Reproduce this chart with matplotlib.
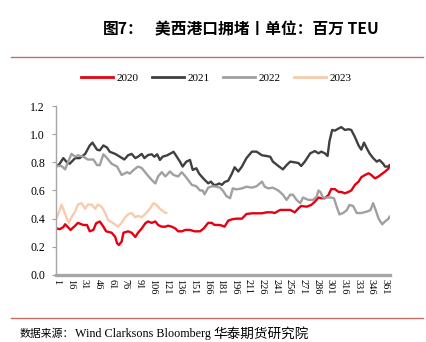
import matplotlib
matplotlib.use('Agg')
import matplotlib.pyplot as plt
from matplotlib.lines import Line2D

# ─── Data ─────────────────────────────────────────────────────────────────────
days_2020 = [1, 4, 8, 10, 13, 16, 21, 24, 30, 34, 37, 41, 44, 48, 52, 55, 61, 65, 67, 69,
             72, 74, 79, 83, 87, 90, 94, 98, 101, 105, 109, 112, 116, 120, 123, 127, 131,
             134, 138, 142, 147, 152, 158, 162, 167, 171, 174, 180, 185, 189, 193, 198,
             204, 209, 215, 220, 226, 231, 237, 240, 246, 251, 257, 262, 266, 269, 275,
             280, 284, 288, 291, 295, 299, 302, 306, 310, 313, 317, 321, 324, 328, 332,
             335, 339, 343, 346, 350, 354, 357, 361, 365, 366]
vals_2020 = [0.33, 0.325, 0.34, 0.36, 0.34, 0.32, 0.35, 0.37, 0.355, 0.355, 0.31, 0.32,
             0.367, 0.38, 0.343, 0.31, 0.30, 0.27, 0.225, 0.213, 0.237, 0.30, 0.31, 0.30,
             0.27, 0.30, 0.33, 0.367, 0.38, 0.37, 0.38, 0.355, 0.343, 0.343, 0.35, 0.343,
             0.33, 0.31, 0.31, 0.32, 0.32, 0.31, 0.31, 0.33, 0.37, 0.37, 0.355, 0.355,
             0.343, 0.386, 0.395, 0.40, 0.40, 0.433, 0.438, 0.438, 0.438, 0.445, 0.445,
             0.44, 0.462, 0.462, 0.462, 0.445, 0.473, 0.49, 0.485, 0.497, 0.52, 0.55,
             0.545, 0.545, 0.568, 0.61, 0.61, 0.59, 0.59, 0.58, 0.59, 0.60, 0.64, 0.663,
             0.694, 0.71, 0.722, 0.71, 0.686, 0.70, 0.715, 0.734, 0.757, 0.78]

days_2021 = [1, 4, 8, 12, 15, 21, 26, 32, 37, 40, 45, 48, 52, 56, 59, 65, 70, 75, 79, 83,
             87, 90, 94, 97, 101, 105, 108, 111, 114, 117, 122, 126, 129, 132, 136, 139,
             143, 147, 150, 154, 157, 161, 164, 167, 170, 173, 176, 179, 182, 185, 189,
             193, 196, 200, 204, 209, 215, 220, 226, 231, 235, 238, 244, 249, 253, 257,
             262, 266, 269, 273, 279, 284, 288, 291, 295, 298, 300, 303, 306, 310, 313,
             317, 321, 324, 328, 332, 335, 338, 341, 344, 348, 352, 355, 359, 361, 365, 366]
vals_2021 = [0.774, 0.79, 0.83, 0.80, 0.79, 0.83, 0.83, 0.86, 0.92, 0.94, 0.89, 0.885,
             0.92, 0.905, 0.875, 0.86, 0.84, 0.82, 0.85, 0.86, 0.83, 0.84, 0.86, 0.83,
             0.852, 0.857, 0.84, 0.857, 0.817, 0.84, 0.85, 0.864, 0.875, 0.845, 0.805,
             0.77, 0.805, 0.817, 0.746, 0.758, 0.72, 0.69, 0.67, 0.651, 0.663, 0.64, 0.64,
             0.65, 0.64, 0.66, 0.67, 0.72, 0.765, 0.735, 0.77, 0.83, 0.876, 0.876, 0.85,
             0.845, 0.84, 0.805, 0.774, 0.75, 0.78, 0.805, 0.80, 0.795, 0.774, 0.805,
             0.864, 0.88, 0.864, 0.876, 0.864, 0.845, 0.947, 1.03, 1.025, 1.04, 1.05,
             1.03, 1.035, 1.03, 0.98, 0.92, 0.89, 0.94, 0.90, 0.864, 0.83, 0.805, 0.816,
             0.79, 0.77, 0.77, 0.775]

days_2022 = [1, 6, 10, 13, 17, 21, 24, 30, 35, 41, 45, 48, 52, 56, 61, 67, 72, 78, 81, 85,
             90, 94, 99, 105, 109, 112, 116, 120, 125, 129, 134, 138, 142, 145, 149, 154,
             158, 161, 163, 167, 171, 176, 180, 183, 187, 191, 194, 198, 204, 209, 215,
             220, 226, 229, 233, 238, 244, 249, 253, 257, 260, 264, 268, 271, 277, 282,
             286, 288, 290, 293, 297, 302, 305, 308, 311, 315, 319, 322, 326, 330, 335,
             341, 345, 348, 351, 354, 358, 361, 365, 366]
vals_2022 = [0.774, 0.774, 0.75, 0.80, 0.86, 0.84, 0.85, 0.84, 0.82, 0.82, 0.78, 0.78,
             0.857, 0.83, 0.79, 0.77, 0.71, 0.73, 0.72, 0.745, 0.77, 0.76, 0.72, 0.675,
             0.65, 0.70, 0.73, 0.70, 0.735, 0.71, 0.70, 0.73, 0.70, 0.675, 0.64, 0.63,
             0.60, 0.60, 0.573, 0.62, 0.63, 0.627, 0.62, 0.60, 0.56, 0.545, 0.615, 0.608,
             0.615, 0.627, 0.62, 0.63, 0.663, 0.627, 0.615, 0.62, 0.60, 0.57, 0.533, 0.57,
             0.57, 0.533, 0.51, 0.55, 0.533, 0.533, 0.556, 0.60, 0.59, 0.55, 0.55, 0.55,
             0.545, 0.485, 0.43, 0.44, 0.46, 0.497, 0.49, 0.44, 0.44, 0.45, 0.46, 0.51,
             0.457, 0.40, 0.36, 0.38, 0.40, 0.414]

days_2023 = [1, 4, 6, 9, 12, 14, 17, 21, 24, 28, 32, 35, 39, 43, 46, 50, 54, 57, 63, 68,
             72, 76, 79, 83, 87, 90, 94, 99, 103, 107, 110, 114, 118, 121]
vals_2023 = [0.41, 0.46, 0.50, 0.45, 0.40, 0.37, 0.41, 0.45, 0.50, 0.51, 0.47, 0.50,
             0.50, 0.47, 0.50, 0.485, 0.44, 0.39, 0.367, 0.343, 0.37, 0.41, 0.43, 0.44,
             0.41, 0.42, 0.41, 0.44, 0.47, 0.51, 0.50, 0.47, 0.45, 0.44]

series = [('2020', days_2020, vals_2020, '#E60012'),
          ('2021', days_2021, vals_2021, '#404040'),
          ('2022', days_2022, vals_2022, '#A0A0A0'),
          ('2023', days_2023, vals_2023, '#F8CBAD')]

x_ticks = list(range(1, 362, 15))
y_ticks = [0.0, 0.2, 0.4, 0.6, 0.8, 1.0, 1.2]

SERIF = ['Liberation Serif', 'Noto Sans CJK SC']
CJK = ['Noto Sans CJK SC', 'DejaVu Sans']

# ─── Figure ───────────────────────────────────────────────────────────────────
fig = plt.figure(figsize=(4.26, 3.42), dpi=100)
ax = fig.add_axes([0.1315, 0.196, 0.784, 0.494])

for name, d, v, c in series:
    ax.plot(d, v, color=c, lw=1.7, solid_joinstyle='round')

ax.set_xlim(0, 366.5)
ax.set_ylim(0, 1.2)
ax.set_xticks(x_ticks)
ax.set_xticklabels([str(t) for t in x_ticks], rotation=270, family=SERIF,
                   fontsize=7.4, va='top', ha='center')
ax.set_yticks(y_ticks)
ax.set_yticklabels([f'{t:.1f}' for t in y_ticks], family=SERIF, fontsize=8.5)
ax.tick_params(axis='x', length=0, pad=3)
ax.tick_params(axis='y', length=3, width=0.8, color='#A0A0A0', pad=5)

for s in ['top', 'right']:
    ax.spines[s].set_visible(False)
ax.spines['left'].set_color('#A6A6A6')
ax.spines['left'].set_linewidth(1.0)
ax.spines['bottom'].set_color('#A6A6A6')
ax.spines['bottom'].set_linewidth(2.4)

# legend
handles = [Line2D([0], [0], color=c, lw=2) for _, _, _, c in series]
fig.legend(handles, [s[0] for s in series], loc='center', ncol=4,
           bbox_to_anchor=(0.508, 0.772), frameon=False,
           prop={'family': SERIF, 'size': 8}, handlelength=2.9,
           handletextpad=0.3, columnspacing=1.2)

# title
fig.text(103 / 426, 1 - 29 / 342, '图7：', family=CJK, fontsize=11.3,
         fontweight='bold', ha='left', va='center')
fig.text(155 / 426, 1 - 29 / 342, '美西港口拥堵丨单位：百万 TEU', family=CJK,
         fontsize=11.3, fontweight='bold', ha='left', va='center')

# rules
fig.add_artist(Line2D([11 / 426, 423 / 426], [1 - 57 / 342] * 2, color='#C0504D',
                      lw=1.0, alpha=0.85))
fig.add_artist(Line2D([11 / 426, 423 / 426], [1 - 318 / 342] * 2, color='#C0504D',
                      lw=1.0, alpha=0.85))

# source
fig.text(20 / 426, 1 - 334 / 342, '数据来源：', family=CJK, fontsize=7.8,
         ha='left', va='center')
fig.text(75 / 426, 1 - 334 / 342, 'Wind Clarksons Bloomberg', family=SERIF,
         fontsize=8.7, ha='left', va='center')
fig.text(213 / 426, 1 - 334 / 342, '华泰期货研究院', family=CJK, fontsize=9.8,
         ha='left', va='center')

fig.savefig('out.png', dpi=100)
